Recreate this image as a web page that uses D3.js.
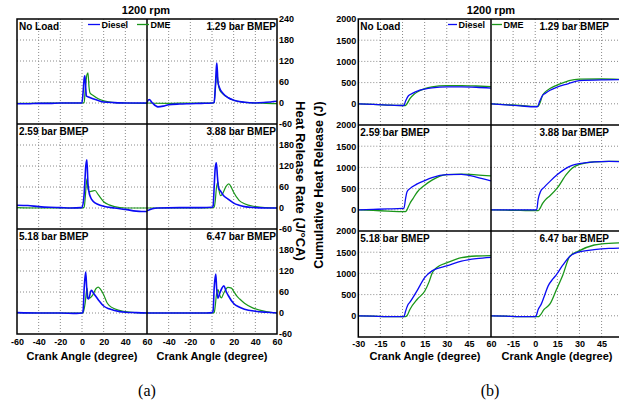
<!DOCTYPE html>
<html>
<head>
<meta charset="utf-8">
<script src="https://cdn.jsdelivr.net/npm/d3@7"></script>
<style>
  body { margin: 0; background: #fff; }
  svg text { font-family: "Liberation Sans", Arial, sans-serif; font-weight: bold; fill: #000; }
  .tick line { display: none; }
  .domain { display: none; }
</style>
</head>
<body>
<div id="chart"></div>
<script>
const WIDTH = 619;
const HEIGHT = 405;

// ---- data: heat release rate (J/°CA) vs crank angle, panel (a)
const hrrNoLoadDiesel = [[-60,-2],[-50,-2],[-40,-1],[-30,-1],[-20,0],[-10,0],[-2,0],[0,1],[1,30],[2,70],[2.7,78],[3.5,40],[4,20],[6,17],[10,12],[15,7],[20,3],[30,1],[40,0],[60,0]];
const hrrNoLoadDME = [[-60,-1],[-30,0],[-10,0],[0,0],[2,1],[3,40],[4.5,80],[5.5,86],[6.5,45],[7.5,28],[10,22],[15,12],[20,6],[30,1],[40,0],[60,-1]];
const hrr129Diesel = [[-60,2],[-58,10],[-55,0],[-50,-11],[-45,-9],[-40,-5],[-30,-3],[-20,-2],[-10,-1],[0,0],[2,2],[3,40],[4,100],[4.5,114],[5.5,60],[7,43],[10,28],[15,15],[20,8],[30,2],[40,0],[50,2],[60,5]];
const hrr129DME = [[-60,0],[-40,-1],[-20,0],[0,0],[2,1],[3,40],[4.5,86],[5.5,60],[7,38],[10,26],[15,15],[20,8],[30,2],[40,0],[50,-1],[60,-2]];
const hrr259Diesel = [[-60,8],[-50,7],[-40,4],[-30,2],[-20,1],[-10,0],[-1,1],[0,2],[2,40],[3.5,120],[4.5,138],[5.5,70],[6.5,45],[8,30],[10,20],[15,10],[20,5],[30,0],[40,-4],[50,-9],[55,-10],[60,-10]];
const hrr259DME = [[-60,1],[-40,0],[-20,0],[-5,0],[0,0],[2,2],[3,30],[4.5,83],[5.5,55],[6.5,47],[9,48],[12,50],[15,38],[20,18],[25,9],[30,4],[40,0],[60,0]];
const hrr388Diesel = [[-60,-8],[-55,-2],[-50,0],[-30,1],[-10,1],[0,2],[1,5],[2,60],[3,115],[4,129],[5,90],[6,57],[8,48],[10,38],[15,25],[20,14],[25,8],[30,4],[40,1],[50,0],[60,0]];
const hrr388DME = [[-60,0],[-30,0],[-10,0],[0,1],[2,2],[3,20],[4,55],[5.5,74],[6.5,50],[8,35],[10,42],[13,62],[15.5,69],[18,58],[20,45],[25,22],[30,12],[40,4],[50,1],[60,0]];
const hrr518Diesel = [[-60,1],[-40,0],[-20,0],[-5,-1],[0,0],[1,5],[2,70],[3.4,117],[4.3,75],[5,43],[6,40],[8.6,65],[11,55],[15,38],[20,20],[25,12],[30,7],[40,2],[50,1],[60,0]];
const hrr518DME = [[-60,1],[-40,0],[-20,0],[0,0],[1,1],[3,30],[4.6,71],[5.5,45],[7,43],[10,52],[13,70],[15,74],[17,68],[20,52],[23,30],[25,22],[30,12],[40,4],[50,1],[60,0]];
const hrr647Diesel = [[-60,0],[-40,0],[-20,0],[-5,0],[0,1],[1,5],[2,70],[3.5,111],[4.3,70],[5.5,42],[7,55],[9,70],[11,78],[13,62],[15,50],[20,27],[25,17],[30,11],[40,5],[50,2],[60,0]];
const hrr647DME = [[-60,0],[-30,0],[0,0],[2,1],[3,20],[4,50],[5.5,67],[7,52],[8.6,43],[11,58],[14.7,73],[18,71],[20,62],[23,48],[25.6,40],[30,28],[38,14],[50,4],[60,0]];

// ---- data: cumulative heat release (J) vs crank angle, panel (b)
const cumNoLoadDiesel = [[-30,0],[-20,-15],[-10,-30],[0,-40],[1,-35],[2,60],[4,190],[7,250],[10,300],[15,345],[20,375],[30,400],[40,400],[50,390],[60,370]];
const cumNoLoadDME = [[-30,0],[-20,-15],[-10,-30],[0,-40],[2,-40],[3,0],[5,120],[8,230],[10,280],[15,357],[20,400],[30,428],[40,430],[50,420],[60,405]];
const cum129Diesel = [[-30,0],[-20,-25],[-10,-50],[0,-70],[1.5,-70],[3,60],[5,200],[6.5,240],[10,320],[14,380],[20,450],[23,480],[30,545],[45,565],[60,570]];
const cum129DME = [[-30,0],[-20,-20],[-10,-40],[0,-60],[2,-60],[3,0],[5,200],[6.5,270],[10,360],[14,430],[20,510],[23,545],[30,580],[45,585],[60,575]];
const cum259Diesel = [[-30,0],[-20,10],[-10,20],[0,35],[1,40],[2,250],[3,420],[5,500],[10,610],[15,690],[20,760],[30,830],[40,835],[50,770],[60,680]];
const cum259DME = [[-30,0],[-20,-15],[-10,-30],[0,-45],[2,-45],[3,0],[5,150],[7,260],[10,420],[15,580],[20,700],[25,790],[30,830],[40,840],[50,825],[60,800]];
const cum388Diesel = [[-30,0],[-20,0],[-10,0],[0,0],[1,5],[2,250],[3.6,430],[6,530],[10,670],[15,830],[20,960],[25,1050],[30,1090],[40,1130],[50,1140],[60,1130]];
const cum388DME = [[-30,0],[-20,-10],[-10,-15],[0,-20],[2,-20],[3,20],[5,150],[7,240],[10,330],[15,515],[21,830],[25,980],[30,1070],[40,1130],[50,1140],[60,1140]];
const cum518Diesel = [[-30,0],[-20,-10],[-10,-20],[0,-20],[1,-20],[2,100],[3.5,250],[5,320],[10,600],[15,900],[20,1060],[25,1130],[30,1180],[40,1290],[50,1350],[60,1380]];
const cum518DME = [[-30,0],[-20,-10],[-10,-20],[0,-20],[2,-20],[3,0],[5,150],[10,390],[15,580],[18,800],[20,1000],[22,1100],[25,1180],[30,1250],[40,1370],[50,1410],[60,1420]];
const cum647Diesel = [[-30,0],[-20,-10],[-10,-20],[0,-20],[0.5,-10],[2,150],[4,270],[6,450],[8.7,700],[12,870],[14.4,970],[18.8,1200],[23.4,1400],[29,1500],[40,1560],[50,1590],[60,1600]];
const cum647DME = [[-30,0],[-20,-10],[-10,-20],[0,-20],[2,-20],[3,0],[6,150],[10,280],[14.4,620],[18.8,970],[23.4,1400],[29,1520],[40,1670],[50,1710],[60,1720]];

const panelLabels = ["No Load","1.29 bar BMEP","2.59 bar BMEP","3.88 bar BMEP","5.18 bar BMEP","6.47 bar BMEP"];
const seriesNames = ["Diesel","DME"];
const hrrTicksX = [-60,-40,-20,0,20,40,60];
const hrrTicksY = [240,180,120,60,0,-60];
const cumTicksX = [-30,-15,0,15,30,45,60];
const cumTicksY = [2000,1500,1000,500,0];

const hrrSets = [[hrrNoLoadDiesel,hrrNoLoadDME],[hrr129Diesel,hrr129DME],[hrr259Diesel,hrr259DME],[hrr388Diesel,hrr388DME],[hrr518Diesel,hrr518DME],[hrr647Diesel,hrr647DME]];
const cumSets = [[cumNoLoadDiesel,cumNoLoadDME],[cum129Diesel,cum129DME],[cum259Diesel,cum259DME],[cum388Diesel,cum388DME],[cum518Diesel,cum518DME],[cum647Diesel,cum647DME]];

const COLORS = ["#0b0bf5","#1a961a"];
const FONT = "'Liberation Sans', Arial, sans-serif";
const plain = d => String(d);   // hyphen minus, no thousands comma

let svg = d3.select("#chart").append("svg")
    .attr("width",WIDTH)
    .attr("height",HEIGHT);

let clipId = 0;

function styleTicks(sel){
    sel.attr("font-family",null).attr("font-size",null);
    sel.selectAll("text")
        .style("font-size","9px")
        .style("font-family",FONT)
        .style("font-weight","bold")
        .attr("fill","#000");
}

// draws one small cell of a 2x3 grid
function drawCell(g, cfg, sets, idx){
    let c = idx % 2, r = Math.floor(idx / 2);
    let x = d3.scaleLinear().domain(cfg.xDomain).range([cfg.xs[c],cfg.xs[c+1]]);
    let y = d3.scaleLinear().domain(cfg.yDomain).range([cfg.ys[r+1],cfg.ys[r]]);

    let cell = g.append("g");
    // grid
    cell.selectAll(".vgrid").data(cfg.gridX).enter().append("line")
        .attr("x1",d=>x(d)).attr("x2",d=>x(d))
        .attr("y1",cfg.ys[r]).attr("y2",cfg.ys[r+1])
        .attr("stroke","#8a8a8a").attr("stroke-dasharray","1,2");
    cell.selectAll(".hgrid").data(cfg.gridY).enter().append("line")
        .attr("y1",d=>y(d)).attr("y2",d=>y(d))
        .attr("x1",cfg.xs[c]).attr("x2",cfg.xs[c+1])
        .attr("stroke","#8a8a8a").attr("stroke-dasharray","1,2");

    let id = "clip" + (clipId++);
    cell.append("clipPath").attr("id",id).append("rect")
        .attr("x",cfg.xs[c]).attr("y",cfg.ys[r])
        .attr("width",cfg.xs[c+1]-cfg.xs[c]).attr("height",cfg.ys[r+1]-cfg.ys[r]);

    let line = d3.line().x(d=>x(d[0])).y(d=>y(d[1])).curve(d3.curveMonotoneX);
    // DME drawn last so green sits above blue like the original
    [1,0].forEach(s => {
        cell.append("path")
            .attr("clip-path","url(#"+id+")")
            .attr("d",line(sets[idx][s]))
            .attr("fill","none")
            .attr("stroke",COLORS[s])
            .attr("stroke-width",cfg.lineW[s]);
    });

    // panel label
    let left = c === 0;
    cell.append("text")
        .attr("x", left ? cfg.xs[c]+2 : cfg.labelRight)
        .attr("y", cfg.ys[r]+11)
        .attr("text-anchor", left ? "start" : "end")
        .style("font-size","10px")
        .text(panelLabels[idx]);

    // x axis on the bottom row
    if (r === 2){
        let ticks = c === 0 ? cfg.ticksX : cfg.ticksX.slice(1);
        cell.append("g")
            .attr("transform","translate(0,"+cfg.ys[3]+")")
            .call(d3.axisBottom(x).tickValues(ticks).tickFormat(plain).tickSize(0).tickPadding(cfg.xPad))
            .call(styleTicks);
    }
    // y axis
    if (cfg.yOn === c){
        let ticks = (r === 0 || !cfg.skipTop) ? cfg.ticksY : cfg.ticksY.slice(1);
        let ax = cfg.yRight ? d3.axisRight(y) : d3.axisLeft(y);
        cell.append("g")
            .attr("transform","translate("+(cfg.yRight ? cfg.xs[2] : cfg.xs[0])+",0)")
            .call(ax.tickValues(ticks).tickFormat(plain).tickSize(0).tickPadding(2))
            .call(styleTicks);
    }
}

function drawFrame(g, xs, ys){
    let f = g.append("g").attr("stroke","#000").attr("stroke-width",1.5).attr("fill","none");
    f.append("rect").attr("x",xs[0]).attr("y",ys[0]).attr("width",xs[2]-xs[0]).attr("height",ys[3]-ys[0]);
    f.append("line").attr("x1",xs[1]).attr("x2",xs[1]).attr("y1",ys[0]).attr("y2",ys[3]);
    [1,2].forEach(i => f.append("line").attr("x1",xs[0]).attr("x2",xs[2]).attr("y1",ys[i]).attr("y2",ys[i]));
}

function drawLegend(g, pos){
    seriesNames.forEach((name,i) => {
        g.append("line")
            .attr("x1",pos[i][0]).attr("x2",pos[i][1])
            .attr("y1",24.5).attr("y2",24.5)
            .attr("stroke",COLORS[i]).attr("stroke-width",1.3);
        g.append("text")
            .attr("x",pos[i][1]+1.5).attr("y",28)
            .style("font-size","9px")
            .text(name);
    });
}

// ---- panel (a)
let cfgA = {
    xs:[17,147,277], ys:[19,124,229,334],
    xDomain:[-60,60], yDomain:[-60,240],
    gridX:[-40,-20,0,20,40], gridY:[180,120,60,0],
    ticksX:hrrTicksX, ticksY:hrrTicksY,
    labelRight:276, xPad:5, yOn:1, yRight:true, skipTop:true,
    lineW:[1.6,1.2]
};
let gA = svg.append("g");
hrrSets.forEach((s,i) => drawCell(gA, cfgA, hrrSets, i));
drawFrame(gA, cfgA.xs, cfgA.ys);
drawLegend(gA, [[88,100],[137,149]]);

// ---- panel (b)
let cfgB = {
    xs:[358.3,491,623.7], ys:[19,125,231,337],
    xDomain:[-30,60], yDomain:[-500,2000],
    gridX:[-15,0,15,30,45], gridY:[1500,1000,500,0],
    ticksX:cumTicksX, ticksY:cumTicksY,
    labelRight:609, xPad:4, yOn:0, yRight:false, skipTop:false,
    lineW:[1.3,1.3]
};
let gB = svg.append("g");
cumSets.forEach((s,i) => drawCell(gB, cfgB, cumSets, i));
drawFrame(gB, cfgB.xs, cfgB.ys);
drawLegend(gB, [[448,457],[492,502]]);

// titles
[[146,"1200 rpm"],[491,"1200 rpm"]].forEach(t => {
    svg.append("text").attr("x",t[0]).attr("y",14)
        .attr("text-anchor","middle").style("font-size","11px").text(t[1]);
});
[82,212,425,557].forEach(cx => {
    svg.append("text").attr("x",cx).attr("y",360)
        .attr("text-anchor","middle").style("font-size","11px").text("Crank Angle (degree)");
});
svg.append("text")
    .attr("transform","translate(296,181) rotate(90)")
    .attr("text-anchor","middle").style("font-size","13px")
    .text("Heat Release Rate (J/°CA)");
svg.append("text")
    .attr("transform","translate(323,185) rotate(-90)")
    .attr("text-anchor","middle").style("font-size","12.5px")
    .text("Cumulative Heat Release (J)");

[[147,"(a)"],[490,"(b)"]].forEach(t => {
    svg.append("text").attr("x",t[0]).attr("y",396)
        .attr("text-anchor","middle")
        .style("font-family","'Liberation Serif', 'Times New Roman', serif")
        .style("font-weight","normal")
        .style("font-size","16px").text(t[1]);
});
</script>
</body>
</html>
